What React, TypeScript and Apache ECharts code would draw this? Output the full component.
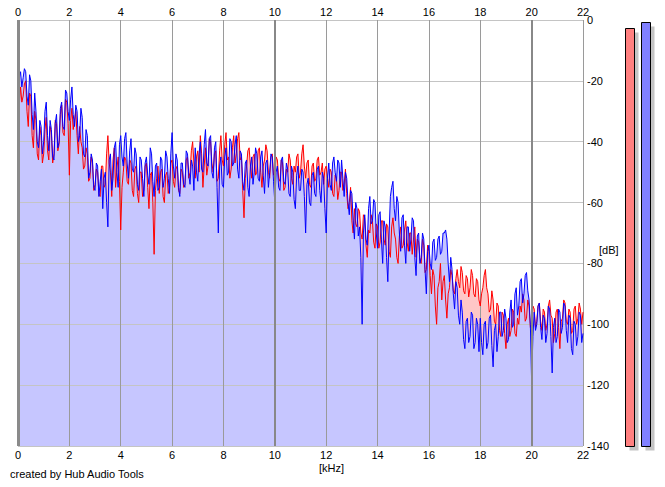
import React, { useEffect, useRef } from "react";
import * as echarts from "echarts";

const X_TICKS_KHZ = [0, 2, 4, 6, 8, 10, 12, 14, 16, 18, 20, 22];
const Y_TICKS_DB = [0, -20, -40, -60, -80, -100, -120, -140];
const BOLD_GRID_KHZ = [0, 10, 20];
const FREQ_STEP_KHZ = 0.05;

// Left channel (red), one value every 0.05 kHz from 0 to 22 kHz (20 values per kHz row)
const LEFT_DB = [
  -45, -28, -22, -27, -25, -21, -20, -30, -35, -24, -25, -38, -42, -30, -33, -44, -46, -35, -38, -47,
  -44, -36, -32, -43, -46, -35, -37, -47, -44, -33, -34, -43, -41, -31, -28, -37, -38, -26, -27, -34,
  -51, -33, -29, -36, -33, -30, -38, -44, -35, -40, -42, -49, -48, -42, -44, -53, -52, -45, -47, -56,
  -54, -49, -50, -57, -58, -48, -48, -55, -54, -44, -38, -47, -50, -58, -46, -42, -55, -49, -45, -53,
  -69, -55, -50, -45, -46, -53, -54, -46, -47, -56, -58, -49, -48, -57, -60, -50, -50, -58, -56, -48,
  -47, -55, -62, -51, -50, -60, -77, -56, -52, -48, -57, -50, -49, -58, -60, -51, -50, -57, -55, -47,
  -46, -53, -55, -49, -48, -56, -57, -49, -50, -55, -54, -46, -45, -52, -50, -43, -40, -47, -52, -45,
  -43, -50, -38, -44, -55, -48, -42, -51, -48, -39, -40, -47, -50, -44, -43, -53, -52, -43, -38, -46,
  -48, -41, -37, -46, -45, -52, -49, -42, -38, -47, -44, -39, -37, -46, -45, -56, -65, -52, -48, -43,
  -42, -48, -52, -45, -44, -51, -50, -43, -42, -50, -55, -48, -46, -41, -43, -50, -52, -45, -44, -51,
  -50, -45, -46, -52, -53, -46, -47, -56, -55, -49, -50, -44, -46, -52, -54, -48, -50, -45, -44, -52,
  -50, -44, -41, -48, -52, -47, -46, -54, -55, -48, -47, -53, -52, -46, -45, -51, -50, -47, -54, -49,
  -48, -52, -55, -49, -50, -57, -58, -51, -52, -59, -56, -50, -50, -56, -54, -49, -57, -62, -60, -55,
  -66, -70, -62, -67, -68, -62, -63, -70, -72, -64, -65, -74, -78, -69, -70, -64, -66, -73, -75, -67,
  -68, -75, -73, -66, -66, -72, -74, -67, -68, -76, -78, -68, -65, -70, -72, -78, -80, -71, -68, -75,
  -74, -69, -66, -73, -76, -70, -70, -77, -72, -68, -78, -72, -73, -79, -80, -72, -74, -83, -82, -74,
  -76, -84, -90, -82, -84, -94, -100, -88, -86, -80, -92, -86, -84, -92, -98, -90, -88, -82, -84, -89,
  -90, -85, -82, -86, -88, -81, -83, -89, -90, -84, -85, -91, -88, -82, -84, -90, -91, -85, -86, -92,
  -94, -90, -88, -84, -82, -88, -90, -96, -95, -89, -92, -99, -100, -93, -94, -102, -104, -96, -97, -103,
  -108, -100, -98, -104, -102, -95, -96, -103, -104, -98, -100, -94, -96, -90, -92, -99, -98, -92, -94, -101,
  -100, -94, -95, -101, -99, -94, -93, -99, -102, -95, -96, -102, -100, -94, -92, -97, -98, -106, -103, -96,
  -95, -101, -108, -99, -98, -92, -93, -99, -100, -95, -96, -103, -102, -95, -94, -100, -98, -93, -95, -100,
  -96,
];

// Right channel (blue), one value every 0.05 kHz from 0 to 22 kHz (20 values per kHz row)
const RIGHT_DB = [
  -24, -19, -17, -22, -19, -16, -17, -25, -28, -18, -20, -31, -36, -24, -30, -40, -42, -33, -35, -44,
  -40, -30, -27, -38, -43, -33, -36, -45, -46, -34, -31, -42, -40, -29, -27, -35, -36, -23, -24, -30,
  -33, -26, -22, -31, -35, -28, -30, -40, -38, -29, -32, -44, -45, -36, -38, -52, -50, -44, -46, -55,
  -56, -47, -48, -58, -53, -49, -62, -52, -50, -60, -68, -46, -44, -56, -52, -42, -40, -50, -55, -41,
  -38, -45, -48, -39, -37, -47, -52, -43, -39, -49, -50, -42, -44, -54, -56, -45, -46, -52, -58, -47,
  -45, -51, -54, -42, -44, -53, -58, -48, -47, -56, -55, -45, -46, -55, -52, -43, -45, -52, -57, -44,
  -37, -48, -52, -44, -46, -55, -58, -47, -47, -54, -55, -43, -44, -51, -54, -46, -48, -56, -42, -50,
  -53, -44, -40, -49, -50, -41, -36, -47, -48, -39, -38, -50, -52, -42, -40, -55, -70, -48, -45, -54,
  -55, -45, -42, -51, -50, -39, -40, -48, -47, -41, -38, -49, -52, -43, -44, -53, -56, -47, -46, -55,
  -58, -48, -45, -54, -50, -42, -44, -52, -53, -45, -43, -51, -57, -47, -46, -55, -50, -44, -45, -53,
  -60, -50, -48, -55, -56, -46, -45, -53, -54, -47, -49, -57, -58, -48, -50, -59, -62, -51, -48, -56,
  -56, -49, -50, -58, -70, -54, -52, -60, -61, -51, -50, -57, -58, -49, -48, -56, -60, -50, -52, -62,
  -70, -52, -47, -54, -56, -47, -45, -50, -53, -46, -47, -55, -46, -52, -58, -50, -52, -60, -64, -56,
  -57, -66, -72, -60, -62, -71, -68, -78, -100, -70, -64, -72, -74, -62, -58, -67, -66, -59, -60, -70,
  -75, -64, -63, -72, -80, -66, -68, -78, -86, -70, -58, -55, -53, -62, -66, -58, -60, -70, -76, -65,
  -64, -74, -80, -68, -68, -76, -72, -65, -66, -78, -84, -71, -70, -80, -78, -70, -72, -82, -90, -76,
  -74, -80, -82, -73, -72, -79, -78, -72, -71, -77, -76, -70, -70, -69, -72, -80, -86, -78, -82, -90,
  -95, -86, -88, -97, -100, -92, -96, -105, -108, -99, -98, -106, -104, -96, -97, -108, -106, -98, -100, -109,
  -98, -106, -110, -100, -99, -108, -106, -98, -97, -107, -114, -102, -100, -109, -104, -96, -96, -104, -102, -95,
  -98, -106, -105, -96, -92, -101, -100, -90, -88, -97, -94, -86, -85, -93, -90, -84, -83, -89, -92, -100,
  -119, -104, -96, -102, -100, -94, -93, -101, -105, -97, -98, -106, -103, -94, -95, -104, -116, -101, -98, -106,
  -104, -95, -96, -103, -101, -93, -94, -102, -106, -97, -98, -108, -110, -99, -100, -107, -104, -96, -97, -106,
  -103,
];

const LEVEL_CHANNELS = ["L", "R"];
const LEVEL_DB = [-2.6, -0.7];

const FONT = "'Liberation Sans', Arial, sans-serif";

function pairs(values: number[]) {
  return values.map((v, i) => [Math.round(i * FREQ_STEP_KHZ * 100) / 100, v]);
}

export default function App() {
  const ref = useRef<HTMLDivElement>(null);

  useEffect(() => {
    document.body.style.margin = "0";
    const chart = echarts.init(ref.current!, null, { renderer: "svg" });
    const leftData = pairs(LEFT_DB);
    const rightData = pairs(RIGHT_DB);
    const levelColors = ["#ff8080", "#8080ff"];

    const option: any = {
      animation: false,
      textStyle: { fontFamily: FONT, fontSize: 11, color: "#000" },
      grid: [
        { left: 18, right: 82, top: 20, bottom: 41, show: false },
        { left: 621, width: 33, top: 20, bottom: 41, show: false },
      ],
      xAxis: [
        {
          type: "value",
          gridIndex: 0,
          position: "bottom",
          min: X_TICKS_KHZ[0],
          max: X_TICKS_KHZ[X_TICKS_KHZ.length - 1],
          interval: 2,
          z: 2,
          axisLine: { show: false },
          axisTick: { show: false },
          axisLabel: { margin: 3, fontSize: 11, color: "#000", fontFamily: FONT },
          splitLine: { show: true, lineStyle: { color: "#9a9a9a", width: 1 } },
        },
        {
          type: "value",
          gridIndex: 0,
          position: "top",
          min: X_TICKS_KHZ[0],
          max: X_TICKS_KHZ[X_TICKS_KHZ.length - 1],
          interval: 2,
          z: 2,
          axisLine: { show: false },
          axisTick: { show: false },
          axisLabel: { margin: 3, fontSize: 11, color: "#000", fontFamily: FONT },
          splitLine: { show: false },
        },
        {
          type: "category",
          gridIndex: 1,
          data: LEVEL_CHANNELS,
          show: false,
        },
      ],
      yAxis: [
        {
          type: "value",
          gridIndex: 0,
          position: "right",
          min: Y_TICKS_DB[Y_TICKS_DB.length - 1],
          max: Y_TICKS_DB[0],
          interval: 20,
          z: 2,
          axisLine: { show: false },
          axisTick: { show: false },
          axisLabel: { margin: 4, fontSize: 11, color: "#000", fontFamily: FONT },
          splitLine: { show: true, lineStyle: { color: "#c4c4c4", width: 1 } },
        },
        {
          type: "value",
          gridIndex: 1,
          min: Y_TICKS_DB[Y_TICKS_DB.length - 1],
          max: Y_TICKS_DB[0],
          show: false,
        },
      ],
      series: [
        {
          name: "L area",
          type: "line",
          data: leftData,
          showSymbol: false,
          symbol: "none",
          z: 1,
          silent: true,
          lineStyle: { width: 0, opacity: 0 },
          areaStyle: { color: "#ffc6c6", opacity: 1, origin: "start" },
        },
        {
          name: "R area",
          type: "line",
          data: rightData,
          showSymbol: false,
          symbol: "none",
          z: 1,
          silent: true,
          lineStyle: { width: 0, opacity: 0 },
          areaStyle: { color: "#c6c6ff", opacity: 1, origin: "start" },
        },
        {
          name: "grid bold",
          type: "line",
          data: [],
          z: 2,
          silent: true,
          markLine: {
            silent: true,
            symbol: ["none", "none"],
            label: { show: false },
            lineStyle: { color: "#8a8a8a", type: "solid", width: 2 },
            data: BOLD_GRID_KHZ.map((k) => ({
              xAxis: k,
              lineStyle: { width: k === 0 ? 3 : 2, color: k === 0 ? "#8a8a8a" : "#888" },
            })),
          },
        },
        {
          name: "L",
          type: "line",
          data: leftData,
          showSymbol: false,
          symbol: "none",
          z: 3,
          lineStyle: { color: "#ff0000", width: 1 },
        },
        {
          name: "R",
          type: "line",
          data: rightData,
          showSymbol: false,
          symbol: "none",
          z: 3,
          lineStyle: { color: "#0000ff", width: 1 },
        },
        {
          name: "level",
          type: "custom",
          xAxisIndex: 2,
          yAxisIndex: 1,
          data: LEVEL_DB.map((v, i) => [i, v]),
          renderItem: (params: any, api: any) => {
            const i = api.value(0);
            const top = api.coord([i, api.value(1)]);
            const bottom = api.coord([i, -140]);
            const w = 9;
            const x = Math.round(top[0] - w / 2) + 0.5;
            const y = Math.round(top[1]) + 0.5;
            const h = Math.round(bottom[1]) - Math.round(top[1]);
            return {
              type: "group",
              children: [
                {
                  type: "rect",
                  shape: { x: x + 4, y: y + 4, width: w, height: h },
                  style: { fill: "#c4c4c4" },
                },
                {
                  type: "rect",
                  shape: { x, y, width: w, height: h },
                  style: { fill: levelColors[i], stroke: "#000", lineWidth: 1 },
                },
              ],
            };
          },
        },
      ],
      graphic: [
        {
          type: "text",
          left: 319,
          top: 462,
          style: { text: "[kHz]", fontSize: 11, fontFamily: FONT, fill: "#000" },
        },
        {
          type: "text",
          left: 599,
          top: 244,
          style: { text: "[dB]", fontSize: 11, fontFamily: FONT, fill: "#000" },
        },
        {
          type: "text",
          left: 10,
          top: 468,
          style: { text: "created by Hub Audio Tools", fontSize: 11, fontFamily: FONT, fill: "#000" },
        },
      ],
    };

    chart.setOption(option);
    return () => chart.dispose();
  }, []);

  return <div ref={ref} style={{ width: 665, height: 487 }} />;
}
